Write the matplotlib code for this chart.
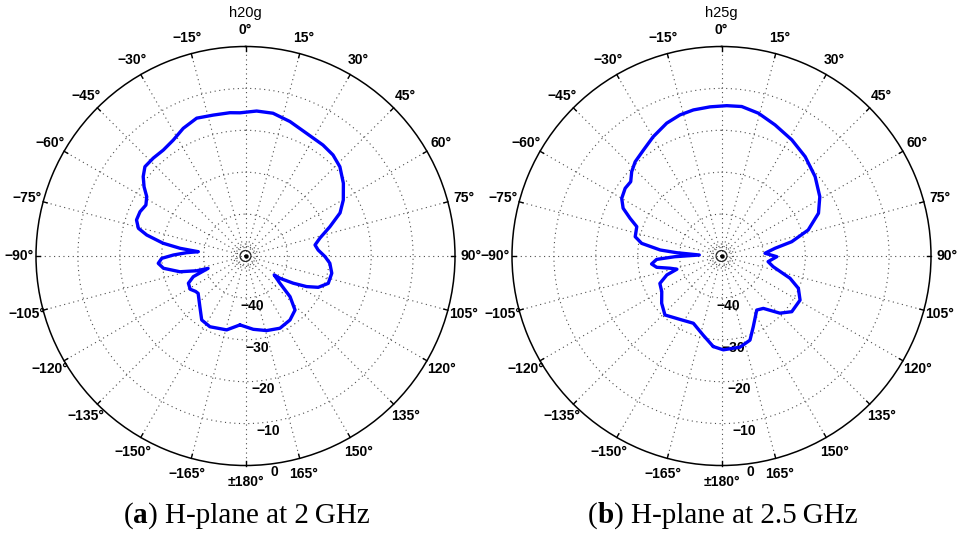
import numpy as np
import matplotlib
matplotlib.use("Agg")
import matplotlib.pyplot as plt

# H-plane radiation patterns (angle in degrees, normalised gain in dB)
ang_2g = [-175.4, -165.7, -153.3, -145.6, -138.1, -128.3, -125.4, -121.0, -115.5, -111.6,
          -108.3, -106.8, -103.5, -98.5, -94.8, -91.6, -89.2, -86.8, -84.8, -83.3,
          -81.2, -78.0, -75.5, -71.7, -67.2, -62.9, -59.0, -55.7, -52.2, -48.4,
          -43.3, -37.8, -31.9, -26.0, -19.5, -12.9, -6.2, -2.2, 4.4, 10.9, 18.3,
          26.5, 34.9, 40.9, 46.6, 53.4, 60.2, 65.5, 70.9, 76.4, 81.0, 85.3, 90.5,
          94.9, 101.3, 108.3, 113.3, 116.6, 119.7, 122.9, 123.4, 128.4, 132.4,
          137.5, 145.2, 154.5, 164.2, 173.9]
gain_2g = [-33.5, -31.8, -31.1, -31.5, -33.7, -35.6, -35.4, -34.6, -34.9, -36.6,
           -40.6, -37.8, -33.9, -30.2, -29.1, -30.0, -32.8, -35.9, -38.7, -34.3,
           -30.1, -25.9, -23.6, -22.6, -22.7, -23.3, -22.5, -20.7, -19.1, -17.9,
           -17.9, -18.0, -17.4, -16.1, -15.1, -15.5, -15.6, -15.8, -15.3, -15.3, -16.2,
           -17.3, -17.7, -18.1, -19.0, -20.9, -23.1, -25.2, -28.7, -31.7, -33.2, -32.6, -31.0,
           -29.8, -29.0, -29.2, -31.1, -33.7, -36.9, -40.2, -41.8, -39.5, -35.6,
           -32.5, -31.4, -30.9, -31.5, -32.4]

ang_25g = [-174.8, -167.0, -157.3, -146.7, -136.2, -128.3, -120.8, -114.0, -109.1,
           -106.5, -103.4, -99.9, -96.5, -93.0, -90.9, -87.4, -85.8, -84.4, -81.0,
           -77.4, -70.9, -67.6, -64.1, -60.0, -54.9, -50.7, -46.8, -42.5, -36.4,
           -29.8, -22.4, -16.4, -10.9, -4.4, 2.0, 7.7, 14.5, 22.2, 31.2, 40.1, 49.7,
           58.9, 66.2, 73.3, 78.5, 81.8, 86.4, 90.7, 96.9, 101.7, 108.0, 112.8, 119.3,
           128.4, 134.4, 141.4, 146.9, 155.8, 161.3, 168.5, 178.9]
gain_25g = [-28.3, -30.6, -32.6, -31.9, -30.5, -31.8, -33.4, -33.9, -36.2,
            -38.9, -37.4, -34.3, -33.2, -34.5, -38.8, -44.7, -39.3, -35.3, -30.7,
            -28.9, -28.6, -26.4, -23.9, -22.5, -21.9, -22.0, -20.6, -19.5, -18.6,
            -17.2, -15.7, -14.9, -14.5, -14.3, -14.1, -14.0, -14.8, -16.2, -17.6, -19.0, -20.7,
            -22.6, -24.7, -28.4, -32.9, -37.1, -39.6, -36.8, -38.8, -37.4, -32.8, -30.1, -28.5,
            -28.6, -30.5, -34.0, -34.6, -31.5, -28.8, -27.8, -27.6]

titles = ["h20g", "h25g"]
caption_letters = ["a", "b"]
caption_texts = ["H-plane at 2\u2009GHz", "H-plane at 2.5\u2009GHz"]
ring_values = [-40, -30, -20, -10, 0]
angle_ticks = list(range(-165, 181, 15))

R_MIN, R_MAX = -50.0, 0.0
W, H = 965, 537
fig = plt.figure(figsize=(W / 100, H / 100), dpi=100)

sans = ["Liberation Sans", "DejaVu Sans"]
serif = ["Liberation Serif", "DejaVu Serif"]
grid_kw = dict(color="0.3", linewidth=0.8, linestyle=(0, (1, 3.2)))

centers = [245.5, 721.5]
radius_px = 209.5
cy = 256.0
px_per_db = radius_px / (R_MAX - R_MIN)

for k, (ang, gain) in enumerate([(ang_2g, gain_2g), (ang_25g, gain_25g)]):
    cx = centers[k]
    rect = [(cx - radius_px) / W, 1 - (cy + radius_px) / H,
            2 * radius_px / W, 2 * radius_px / H]
    ax = fig.add_axes(rect, projection="polar")
    ax.set_theta_zero_location("N")
    ax.set_theta_direction(-1)
    ax.set_ylim(R_MIN, R_MAX)
    ax.set_xticks(np.deg2rad(np.arange(0, 360, 15)))
    ax.set_yticks(ring_values[:-1])
    ax.set_xticklabels([])
    ax.set_yticklabels([])
    ax.grid(True, **grid_kw)
    ax.tick_params(axis="y", length=0)
    ax.tick_params(axis="x", length=0)
    ax.spines["polar"].set_linewidth(1.1)
    ax.spines["polar"].set_color("black")

    full = np.linspace(0, 2 * np.pi, 400)
    # small rings around the origin
    for rp in (8.5, 12.0):
        ax.plot(full, np.full_like(full, R_MIN + rp / px_per_db), color="0.3",
                lw=0.8, ls=grid_kw["linestyle"])
    ax.plot(full, np.full_like(full, R_MIN + 5.5 / px_per_db), color="0.15", lw=0.8)
    ax.plot([0], [R_MIN], marker="o", ms=2.2, color="black")

    # inward ticks on the outer circle
    for a in angle_ticks:
        t = np.deg2rad(a)
        ax.plot([t, t], [R_MAX - 4.2 / px_per_db, R_MAX], color="black", lw=1.0,
                clip_on=False)

    # angle labels
    for a in angle_ticks:
        if a == 180:
            lab = "\u00b1180\u00b0"
        elif a < 0:
            lab = "\u2212%d\u00b0" % (-a)
        else:
            lab = "%d\u00b0" % a
        ax.text(np.deg2rad(a), R_MAX + 16.5 / px_per_db, lab, ha="center", va="center",
                fontsize=10, fontweight="bold", family=sans, clip_on=False)

    # radial labels
    for v in ring_values:
        lab = "0" if v == 0 else "\u2212%d" % (-v)
        ax.text(np.deg2rad(172.5), v + 8.5 / px_per_db, lab, ha="center", va="center",
                fontsize=10, fontweight="bold", family=sans, clip_on=False)

    th = np.deg2rad(np.r_[ang, ang[0] + 360.0])
    rr = np.r_[gain, gain[0]]
    ax.plot(th, rr, color=(0, 0, 1), lw=2.4, solid_joinstyle="round",
            solid_capstyle="round", zorder=5)

    ax.text(0.5, 1 + 33 / (2 * radius_px), titles[k], transform=ax.transAxes,
            ha="center", va="center", fontsize=10.5, family=sans)

# sub-figure captions: "(a) ..." with a bold letter, centred under each plot
renderer = fig.canvas.get_renderer()
for k in range(2):
    cx = centers[k]
    y = 1 - 523 / H
    t1 = fig.text(0, y, "(", fontsize=21, family=serif, va="baseline")
    t2 = fig.text(0, y, caption_letters[k], fontsize=21, family=serif,
                  fontweight="bold", va="baseline")
    t3 = fig.text(0, y, ") " + caption_texts[k], fontsize=21, family=serif,
                  va="baseline")
    w1 = t1.get_window_extent(renderer).width
    w2 = t2.get_window_extent(renderer).width
    w3 = t3.get_window_extent(renderer).width
    x0 = cx + 1 - (w1 + w2 + w3) / 2
    t1.set_x(x0 / W)
    t2.set_x((x0 + w1) / W)
    t3.set_x((x0 + w1 + w2) / W)

fig.savefig("out.png", dpi=100)
